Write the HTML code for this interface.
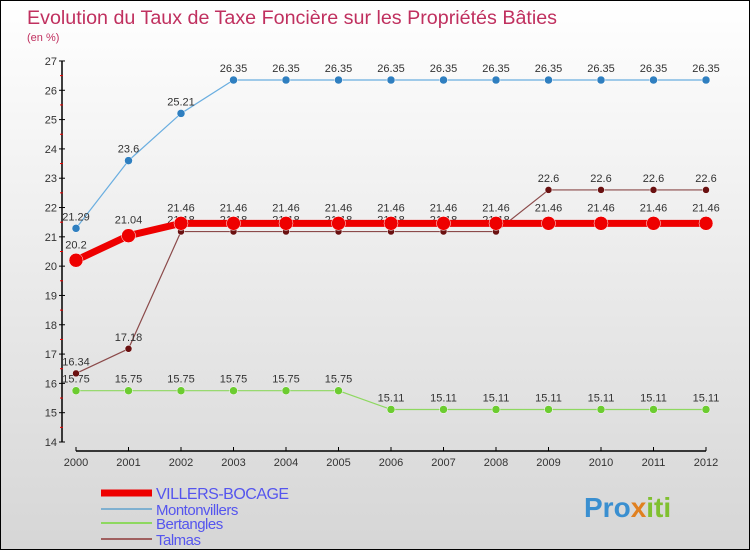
<!DOCTYPE html>
<html><head><meta charset="utf-8"><style>
body{margin:0}
#c{width:748px;height:548px;border:1px solid #000;background:linear-gradient(#fff,#d6d6d6);position:relative;font-family:"Liberation Sans",sans-serif}
svg{position:absolute;left:0;top:0}
</style></head><body>
<div id="c">
<svg id="s" width="750" height="550">
<text x="26" y="23" font-size="19.7" fill="#c0305f">Evolution du Taux de Taxe Foncière sur les Propriétés Bâties</text>
<text x="26" y="40" font-size="11" fill="#c0305f">(en %)</text>
<g id="g"></g>
<text x="583" y="516" font-size="28" font-weight="bold" fill="#3a8fd0">Pro<tspan fill="#e08020">x</tspan><tspan fill="#80c030">iti</tspan></text>
</svg></div>
<script>
const years=[2000,2001,2002,2003,2004,2005,2006,2007,2008,2009,2010,2011,2012];
const villers=[20.2,21.04,21.46,21.46,21.46,21.46,21.46,21.46,21.46,21.46,21.46,21.46,21.46];
const montonvillers=[21.29,23.6,25.21,26.35,26.35,26.35,26.35,26.35,26.35,26.35,26.35,26.35,26.35];
const bertangles=[15.75,15.75,15.75,15.75,15.75,15.75,15.11,15.11,15.11,15.11,15.11,15.11,15.11];
const talmas=[16.34,17.18,21.18,21.18,21.18,21.18,21.18,21.18,21.18,22.6,22.6,22.6,22.6];
const yTicks=[14,15,16,17,18,19,20,21,22,23,24,25,26,27];
const NS="http://www.w3.org/2000/svg",g=document.getElementById('g');
const X=i=>75+i*52.5, Y=v=>441-(v-14)*29.31;
function mk(t,a,p){const e=document.createElementNS(NS,t);for(const k in a)e.setAttribute(k,a[k]);(p||g).appendChild(e);return e;}
let e=mk('line',{x1:61,y1:60,x2:61,y2:441,stroke:'#000','stroke-width':1.5});


e=mk('line',{x1:75,y1:450,x2:705,y2:450,stroke:'#000','stroke-width':1.5});


yTicks.forEach((v,i)=>{
 mk('line',{x1:58,y1:Y(v),x2:64,y2:Y(v),stroke:'#000'});
 if(i<yTicks.length-1)mk('line',{x1:59,y1:Y(v+0.5),x2:62,y2:Y(v+0.5),stroke:'#e00'});
 const t=mk('text',{x:56,y:Y(v)+4,'font-size':11,fill:'#333','text-anchor':'end'});t.textContent=v;
 
 
});
years.forEach((y,i)=>{
 mk('line',{x1:X(i),y1:446,x2:X(i),y2:450,stroke:'#000'});
 const t=mk('text',{x:X(i),y:465,'font-size':11,fill:'#333','text-anchor':'middle'});t.textContent=y;
 
 
});
function series(data,color,w,r,dot,name,labelOff){
 const l=mk('polyline',{points:data.map((v,i)=>X(i)+','+Y(v)).join(' '),fill:'none',stroke:color,'stroke-width':w,'stroke-linejoin':'round'});
 
 
 data.forEach((v,i)=>{
  const c=mk('circle',{cx:X(i),cy:Y(v),r:r,fill:dot,stroke:'#fff','stroke-width':0.5});
  
  
  const t=mk('text',{x:X(i),y:Y(v)-labelOff,'font-size':11,fill:'#333','text-anchor':'middle'});t.textContent=String(v);
  
  
 });
}
series(montonvillers,'#6aaee0',1.2,4,'#2f7fc0','montonvillers',8);
series(bertangles,'#8ed860',1.2,4,'#6ccc30','bertangles',8);
series(talmas,'#8b4a4a',1.2,3.5,'#6a1010','talmas',8);
series(villers,'#ee0000',7,7,'#ee0000','villers-bocage',12);
const leg=[['VILLERS-BOCAGE','#ee0000',7,492,16],['Montonvillers','#7fb0d0',2,508,15],['Bertangles','#8ed860',2,522,15],['Talmas','#a06060',2,538,15]];
leg.forEach(a=>{
 const ln=mk('line',{x1:100,y1:a[3],x2:151,y2:a[3],stroke:a[1],'stroke-width':a[2]});
 
 
 const t=mk('text',{x:155,y:a[3]+6,'font-size':a[4],fill:'#5555ee','letter-spacing':'-0.5'});t.textContent=a[0];
 
 
});
</script>
</body></html>
